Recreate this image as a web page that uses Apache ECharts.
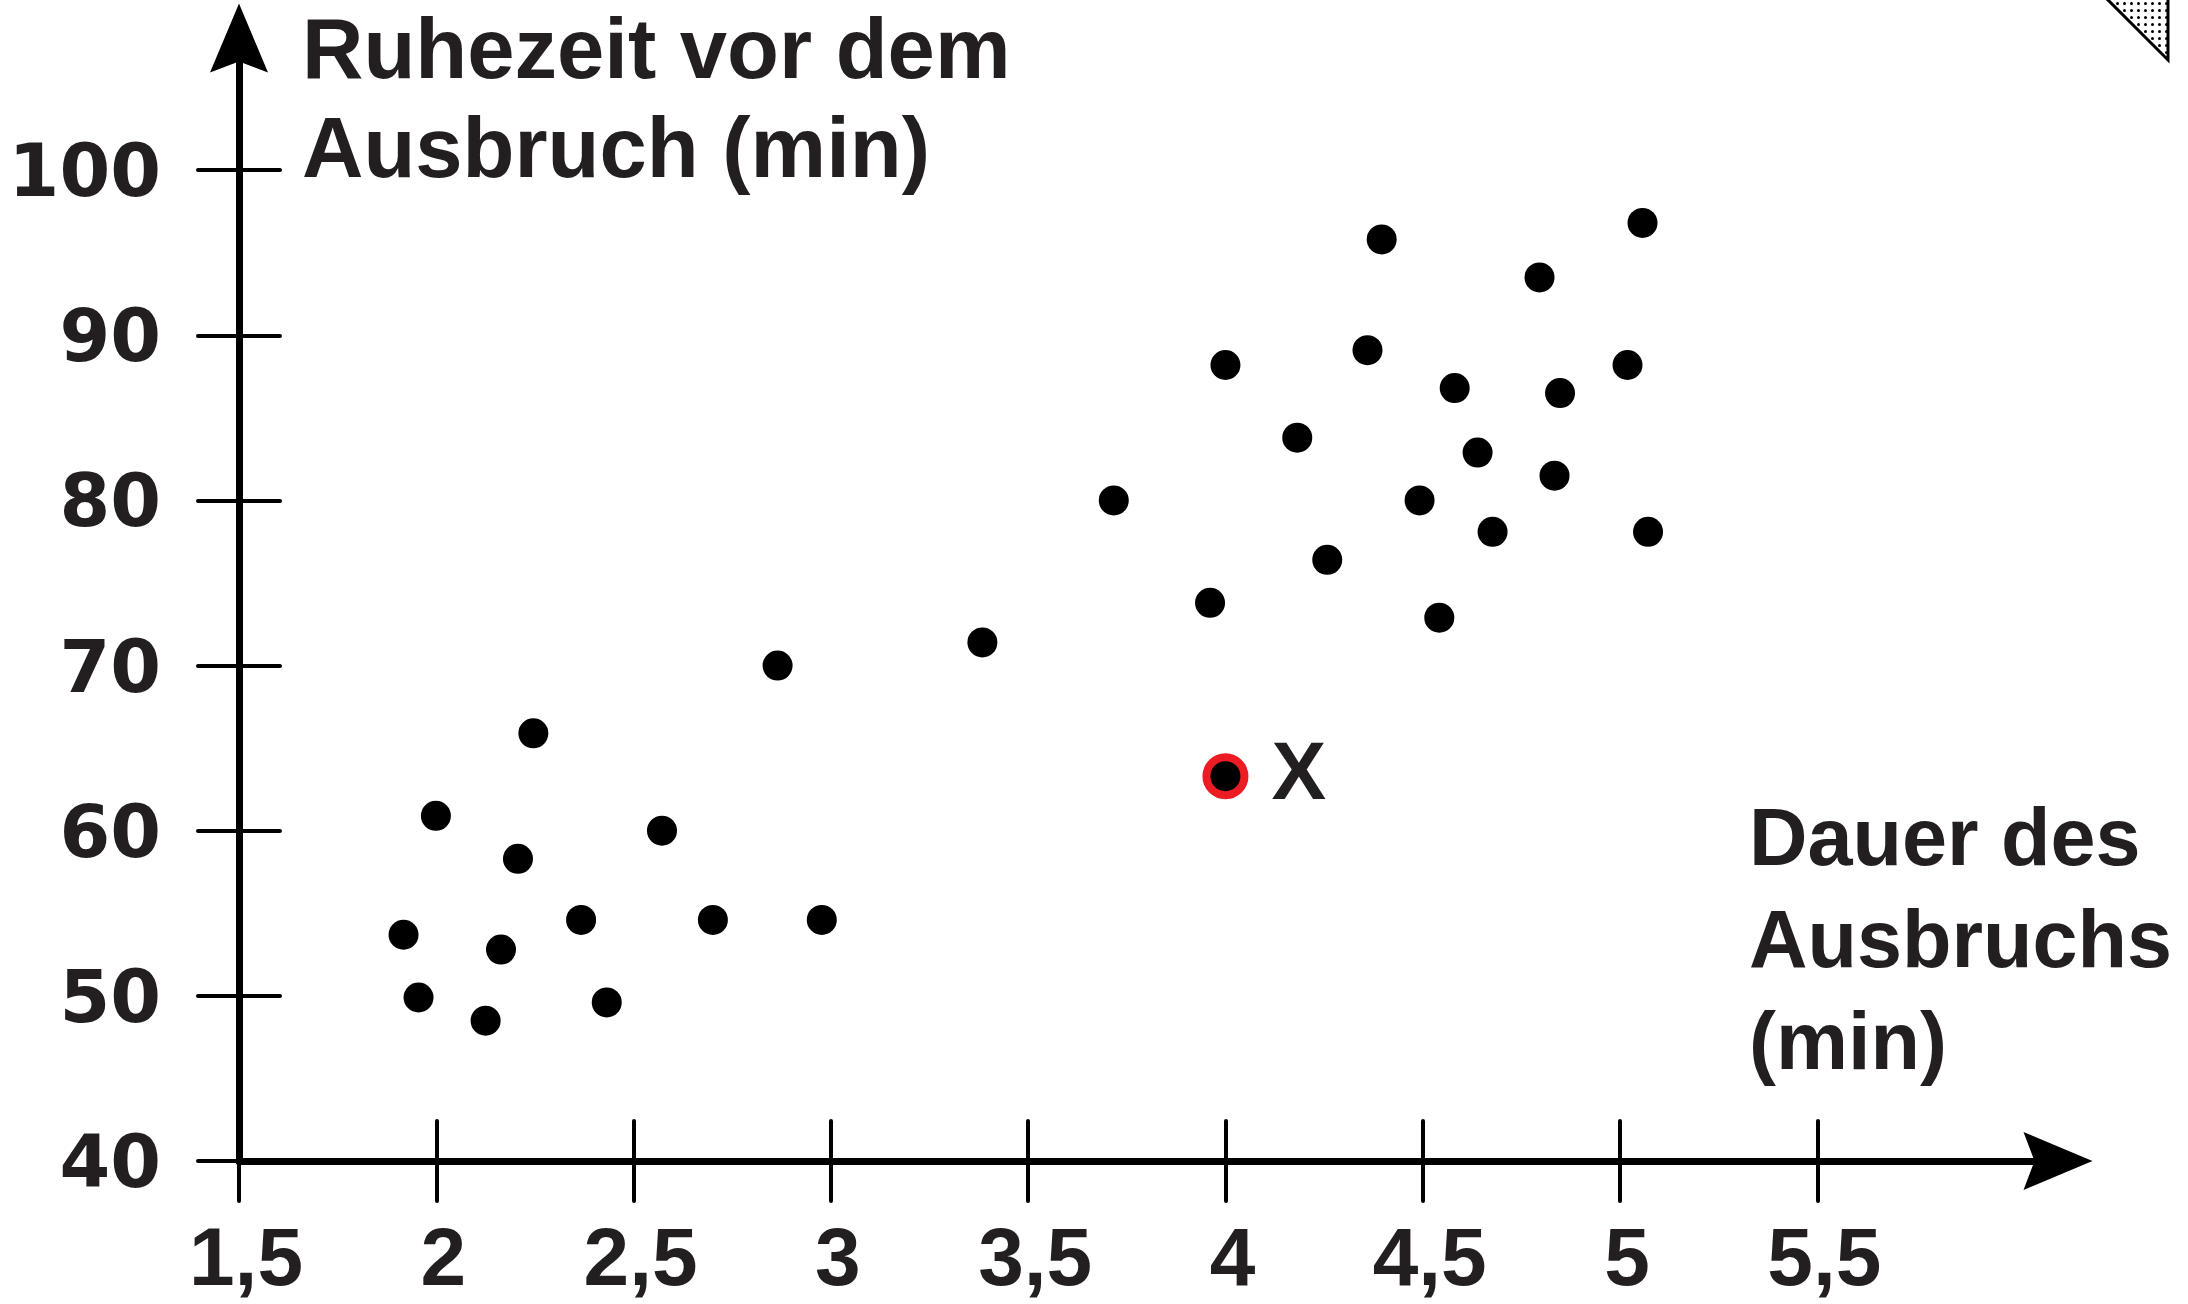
<!DOCTYPE html>
<html>
<head>
<meta charset="utf-8">
<script src="https://cdn.jsdelivr.net/npm/echarts@6/dist/echarts.min.js"></script>
<style>
html,body{margin:0;padding:0;background:#fff;}
#chart{width:2188px;height:1304px;}
</style>
</head>
<body>
<div id="chart"></div>
<script>
// Dauer des Ausbruchs (min)
const durations = [1.917, 1.955, 1.999, 2.125, 2.164, 2.207, 2.246, 2.367, 2.432, 2.572, 2.701, 2.865, 2.977, 3.384, 3.717, 3.961, 4.0, 4.182, 4.258, 4.360, 4.396, 4.492, 4.542, 4.581, 4.639, 4.677, 4.796, 4.834, 4.848, 5.019, 5.057, 5.071];
// Ruhezeit vor dem Ausbruch (min)
const waits = [53.7, 49.9, 60.9, 48.5, 52.8, 58.3, 65.9, 54.6, 49.6, 60.0, 54.6, 70.0, 54.6, 71.4, 80.0, 73.8, 88.2, 83.8, 76.4, 89.1, 95.8, 80.0, 72.9, 86.8, 82.9, 78.1, 93.5, 81.5, 86.5, 88.2, 96.8, 78.1];
// highlighted point
const markedDuration = [4.0];
const markedWait = [63.3];
const markedName = ['X'];
// ticks
const xTicks = [1.5, 2, 2.5, 3, 3.5, 4, 4.5, 5, 5.5];
const yTicks = [40, 50, 60, 70, 80, 90, 100];
const xTitle = 'Dauer des\nAusbruchs\n(min)';
const yTitle = 'Ruhezeit vor dem\nAusbruch (min)';

const TEXT = '#231f20';
const fmt = v => String(v).replace('.', ',');

const pts = durations.map((d, i) => [d, waits[i]]);
const marked = markedDuration.map((d, i) => ({value: [d, markedWait[i]], name: markedName[i]}));

// dotted pattern for page-corner decoration
const pc = document.createElement('canvas');
pc.width = 7; pc.height = 7;
const pctx = pc.getContext('2d');
pctx.fillStyle = '#fff'; pctx.fillRect(0, 0, 7, 7);
pctx.fillStyle = '#000'; pctx.beginPath(); pctx.arc(3.5, 3.5, 1.5, 0, Math.PI * 2); pctx.fill();

const arrowPath = 'path://M29,0L58,69L29,58L0,69Z';
const tickStyle = {color: '#000', width: 4, cap: 'round'};

const chart = echarts.init(document.getElementById('chart'), null, {renderer: 'canvas'});
chart.setOption({
  animation: false,
  backgroundColor: '#fff',
  grid: {left: 239, right: 130, top: 38, bottom: 143, containLabel: false},
  xAxis: [
    {
      type: 'value', min: 1.5, max: 6.11, position: 'bottom',
      axisLine: {show: true, onZero: false, lineStyle: {color: '#000', width: 7},
        symbol: ['none', arrowPath], symbolSize: [58, 69]},
      axisTick: {show: true, customValues: xTicks, length: 40, inside: false, lineStyle: tickStyle},
      axisLabel: {show: true, customValues: xTicks, formatter: fmt, margin: 60,
        fontFamily: '"Liberation Sans", Arial, sans-serif', fontWeight: 'bold', fontSize: 82,
        color: TEXT, padding: [0, 0, 0, 14]},
      splitLine: {show: false}
    },
    {
      type: 'value', min: 1.5, max: 6.11, position: 'bottom',
      axisLine: {show: false, onZero: false},
      axisTick: {show: true, customValues: xTicks, length: 40, inside: true, lineStyle: tickStyle},
      axisLabel: {show: false},
      splitLine: {show: false}
    }
  ],
  yAxis: [
    {
      type: 'value', min: 40, max: 108, position: 'left',
      axisLine: {show: true, onZero: false, lineStyle: {color: '#000', width: 7},
        symbol: ['none', arrowPath], symbolSize: [58, 69]},
      axisTick: {show: true, customValues: yTicks, length: 41, inside: false, lineStyle: tickStyle},
      axisLabel: {show: true, customValues: yTicks, margin: 78,
        fontFamily: '"DejaVu Sans", sans-serif', fontWeight: 'bold', fontSize: 73,
        color: TEXT, verticalAlign: 'top', lineHeight: 14},
      splitLine: {show: false}
    },
    {
      type: 'value', min: 40, max: 108, position: 'left',
      axisLine: {show: false, onZero: false},
      axisTick: {show: true, customValues: yTicks, length: 41, inside: true, lineStyle: tickStyle},
      axisLabel: {show: false},
      splitLine: {show: false}
    }
  ],
  series: [
    {
      type: 'scatter', xAxisIndex: 0, yAxisIndex: 0,
      data: pts, symbol: 'circle', symbolSize: 30,
      itemStyle: {color: '#000', opacity: 1}
    },
    {
      type: 'scatter', xAxisIndex: 0, yAxisIndex: 0,
      data: marked, symbol: 'circle', symbolSize: 38,
      itemStyle: {color: '#000', borderColor: '#ed1c24', borderWidth: 8, opacity: 1},
      label: {show: true, position: 'right', distance: 23, formatter: p => p.name,
        fontFamily: '"Liberation Sans", Arial, sans-serif', fontWeight: 'bold', fontSize: 82, color: TEXT},
      z: 3
    }
  ],
  graphic: [
    {
      type: 'text', left: 302, top: 5,
      style: {text: yTitle, fill: TEXT, font: 'bold 85px "Liberation Sans", Arial, sans-serif', lineHeight: 99}
    },
    {
      type: 'text', left: 1749, top: 792,
      style: {text: xTitle, fill: TEXT, font: 'bold 81px "Liberation Sans", Arial, sans-serif', lineHeight: 102}
    },
    {
      type: 'polygon',
      shape: {points: [[2105, -3], [2168, 60], [2168, -3]]},
      style: {fill: {image: pc, repeat: 'repeat'}, stroke: '#000', lineWidth: 3}
    }
  ]
});
</script>
</body>
</html>
